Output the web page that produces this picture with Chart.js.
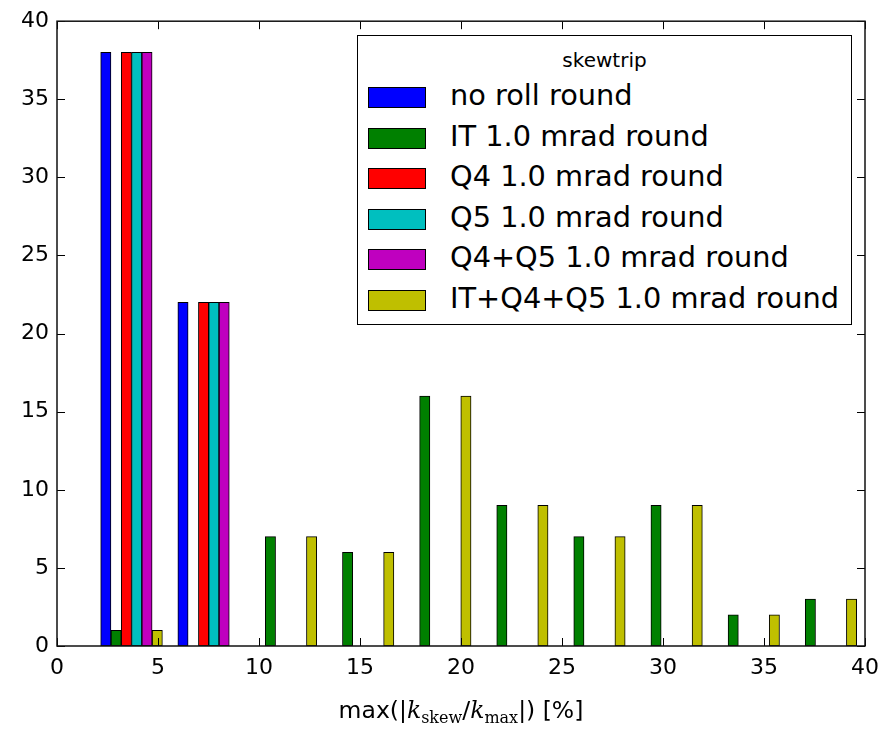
<!DOCTYPE html>
<html>
<head>
<meta charset="utf-8">
<script src="https://cdn.jsdelivr.net/npm/chart.js@4/dist/chart.umd.min.js"></script>
<style>
  html, body { margin: 0; padding: 0; background: #ffffff; }
  #wrap { position: relative; width: 890px; height: 731px; overflow: hidden; font-family: "DejaVu Sans", sans-serif; color: #000; }
  #c { position: absolute; left: 0; top: 0; }
  #legend { position: absolute; left: 357px; top: 35px; width: 493px; height: 288px; border: 1.5px solid #000; background: #fff; }
  #legend .title { position: absolute; left: 0; width: 100%; top: 13px; text-align: center; font-size: 20px; line-height: 22px; }
  #legend .row { position: absolute; left: 10px; height: 30px; }
  #legend .sw { position: absolute; left: 0; top: 4px; width: 56px; height: 19px; border: 1px solid #000; }
  #legend .lbl { position: absolute; left: 82px; top: -4px; font-size: 28.8px; line-height: 32px; white-space: nowrap; }
  #xlabel { position: absolute; left: 0; width: 922px; top: 695px; text-align: center; font-size: 23.5px; line-height: 30px; white-space: nowrap; }
  #xlabel .k { font-family: "DejaVu Serif", serif; font-style: italic; }
  #xlabel sub { font-family: "DejaVu Serif", serif; font-size: 16px; vertical-align: -5px; line-height: 0; }
</style>
</head>
<body>
<div id="wrap">
  <canvas id="c" width="890" height="731"></canvas>
  <div id="legend"></div>
  <div id="xlabel">max(|<span class="k">k</span><sub>skew</sub>/<span class="k">k</span><sub>max</sub>|) [%]</div>
</div>
<script>
// ---- data ----
const legendTitle = "skewtrip";
const seriesNames = [
  "no roll round",
  "IT 1.0 mrad round",
  "Q4 1.0 mrad round",
  "Q5 1.0 mrad round",
  "Q4+Q5 1.0 mrad round",
  "IT+Q4+Q5 1.0 mrad round"
];
const binEdges = [1.78, 5.60, 9.42, 13.24, 17.06, 20.88, 24.69, 28.51, 32.33, 36.15, 39.97];
const noRollCounts  = [38, 22, 0, 0, 0, 0, 0, 0, 0, 0];
const itCounts      = [1, 0, 7, 6, 16, 9, 7, 9, 2, 3];
const q4Counts      = [38, 22, 0, 0, 0, 0, 0, 0, 0, 0];
const q5Counts      = [38, 22, 0, 0, 0, 0, 0, 0, 0, 0];
const q4q5Counts    = [38, 22, 0, 0, 0, 0, 0, 0, 0, 0];
const itq4q5Counts  = [1, 0, 7, 6, 16, 9, 7, 9, 2, 3];
const xTicks = [0, 5, 10, 15, 20, 25, 30, 35, 40];
const yTicks = [0, 5, 10, 15, 20, 25, 30, 35, 40];

// ---- styles ----
const colors = ["#0000ff", "#008000", "#ff0000", "#00bfbf", "#bf00bf", "#bfbf00"];
const allCounts = [noRollCounts, itCounts, q4Counts, q5Counts, q4q5Counts, itq4q5Counts];

// histogram layout (matplotlib-like grouped bars, 80% of each bin)
const nSeries = allCounts.length;
function barCenter(bin, k) {
  const w = binEdges[bin + 1] - binEdges[bin];
  return binEdges[bin] + w * (0.1 + (k + 0.5) * 0.8 / nSeries);
}

const datasets = allCounts.map((counts, k) => ({
  label: seriesNames[k],
  data: counts.map((v, i) => ({ x: barCenter(i, k), y: v > 0 ? v : null })),
  backgroundColor: colors[k],
  borderColor: "#000",
  borderWidth: 1,
  borderSkipped: false
}));

// HTML legend
const leg = document.getElementById("legend");
const t = document.createElement("div");
t.className = "title"; t.textContent = legendTitle; leg.appendChild(t);
seriesNames.forEach((n, k) => {
  const r = document.createElement("div");
  r.className = "row"; r.style.top = (47 + k * 40.5) + "px";
  const s = document.createElement("div"); s.className = "sw"; s.style.background = colors[k];
  const l = document.createElement("div"); l.className = "lbl"; l.textContent = n;
  r.appendChild(s); r.appendChild(l); leg.appendChild(r);
});

// frame + inward ticks on all four sides
const framePlugin = {
  id: "frame",
  afterDatasetsDraw(chart) {
    const { ctx, chartArea: a, scales } = chart;
    ctx.save();
    ctx.strokeStyle = "#000";
    ctx.lineWidth = 1;
    const L = 8;
    xTicks.forEach(v => {
      const px = Math.round(scales.x.getPixelForValue(v)) + 0.5;
      ctx.beginPath();
      ctx.moveTo(px, a.bottom); ctx.lineTo(px, a.bottom - L);
      ctx.moveTo(px, a.top); ctx.lineTo(px, a.top + L);
      ctx.stroke();
    });
    yTicks.forEach(v => {
      const py = Math.round(scales.y.getPixelForValue(v)) + 0.5;
      ctx.beginPath();
      ctx.moveTo(a.left, py); ctx.lineTo(a.left + L, py);
      ctx.moveTo(a.right, py); ctx.lineTo(a.right - L, py);
      ctx.stroke();
    });
    ctx.lineWidth = 1.5;
    ctx.strokeStyle = "#111";
    ctx.strokeRect(a.left, a.top, a.right - a.left, a.bottom - a.top);
    ctx.restore();
  }
};

new Chart(document.getElementById("c"), {
  type: "bar",
  data: { datasets },
  options: {
    responsive: false,
    animation: false,
    devicePixelRatio: 1,
    datasets: { bar: { grouped: false, barPercentage: 1, categoryPercentage: 1 } },
    layout: { padding: { left: 0, top: 20, right: 25, bottom: 0 } },
    plugins: { legend: { display: false }, tooltip: { enabled: false } },
    scales: {
      x: {
        type: "linear",
        offset: false,
        min: 0, max: 40,
        afterBuildTicks: (s) => { s.ticks = xTicks.map(v => ({ value: v })); },
        afterFit: (s) => { s.height = 85; },
        grid: { display: false, drawTicks: false, offset: false },
        border: { display: false },
        ticks: { color: "#000", font: { family: "DejaVu Sans", size: 22 }, padding: 9, maxRotation: 0, autoSkip: false }
      },
      y: {
        type: "linear",
        min: 0, max: 40,
        afterBuildTicks: (s) => { s.ticks = yTicks.map(v => ({ value: v })); },
        afterFit: (s) => { s.width = 57; },
        grid: { display: false, drawTicks: false },
        border: { display: false },
        ticks: { color: "#000", font: { family: "DejaVu Sans", size: 22 }, padding: 8 }
      }
    }
  },
  plugins: [framePlugin]
});
</script>
</body>
</html>
